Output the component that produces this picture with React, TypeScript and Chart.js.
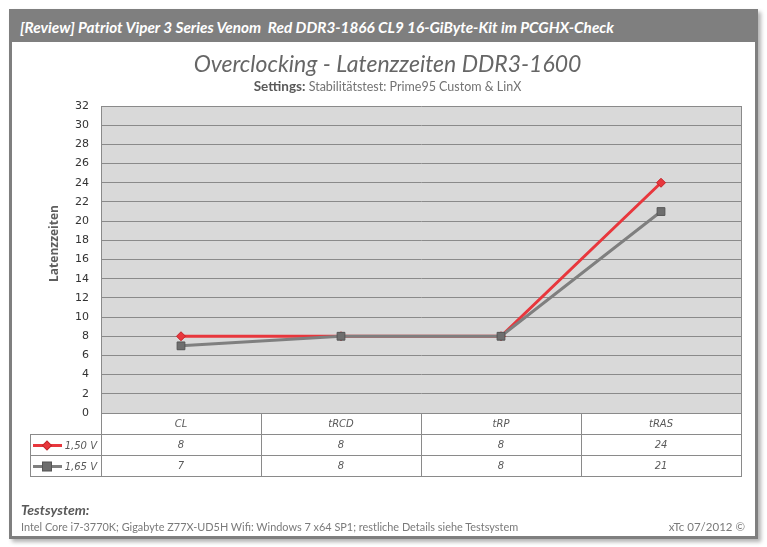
import React, { useEffect, useRef } from "react";
import { Chart, registerables } from "chart.js";

Chart.register(...registerables);

// Timings tested and the resulting latencies per voltage
const categories = ["CL", "tRCD", "tRP", "tRAS"];
const seriesNames = ["1,50 V", "1,65 V"];
const latencies150 = [8, 8, 8, 24];
const latencies165 = [7, 8, 8, 21];
const yMin = 0;
const yMax = 32;
const yStep = 2;

const headerText =
  "[Review] Patriot Viper 3 Series Venom  Red DDR3-1866 CL9 16-GiByte-Kit im PCGHX-Check";
const titleText = "Overclocking - Latenzzeiten DDR3-1600";
const subtitleBold = "Settings:";
const subtitleText = " Stabilitätstest: Prime95 Custom & LinX";
const yAxisTitle = "Latenzzeiten";
const footerTitle = "Testsystem:";
const footerText =
  "Intel Core i7-3770K; Gigabyte Z77X-UD5H Wifi: Windows 7 x64 SP1; restliche Details siehe Testsystem";
const footerCredit = "xTc 07/2012 ©";

const RED = "#e8373d";
const GREY = "#7f7f7f";
const LINE = "#8a8a8a";
const TEXT = "#595959";

const seriesColors = [RED, GREY];
const seriesValues = [latencies150, latencies165];

function drawMarker(ctx: CanvasRenderingContext2D, idx: number, x: number, y: number) {
  if (idx === 0) {
    ctx.save();
    ctx.translate(x, y);
    ctx.rotate(Math.PI / 4);
    ctx.fillStyle = RED;
    ctx.strokeStyle = "#c4242a";
    ctx.lineWidth = 1;
    ctx.fillRect(-3.2, -3.2, 6.4, 6.4);
    ctx.strokeRect(-3.2, -3.2, 6.4, 6.4);
    ctx.restore();
  } else {
    ctx.save();
    ctx.fillStyle = "#6e6e6e";
    ctx.strokeStyle = "#555555";
    ctx.lineWidth = 1;
    ctx.fillRect(x - 4.5, y - 4.5, 9, 9);
    ctx.strokeRect(x - 4.5, y - 4.5, 9, 9);
    ctx.restore();
  }
}

const plotBackground = {
  id: "plotBackground",
  beforeDraw(chart: any) {
    const { ctx, chartArea } = chart;
    ctx.save();
    ctx.fillStyle = "#d9d9d9";
    ctx.fillRect(chartArea.left, chartArea.top, chartArea.right - chartArea.left, chartArea.bottom - chartArea.top);
    ctx.restore();
  },
};

const dataTable = {
  id: "dataTable",
  afterDraw(chart: any) {
    const { ctx, chartArea } = chart;
    const xs = chart.scales.x;
    const left = chartArea.left;
    const right = chartArea.right;
    const top = chartArea.bottom;
    const rowH = 21;
    const keyLeft = 30;
    const n = categories.length;
    const band = (right - left) / n;

    ctx.save();
    // plot frame right edge
    ctx.strokeStyle = LINE;
    ctx.lineWidth = 1;
    ctx.beginPath();
    ctx.moveTo(Math.round(right) + 0.5, chartArea.top);
    ctx.lineTo(Math.round(right) + 0.5, top + rowH * 3);
    ctx.stroke();

    // horizontal table rules
    ctx.beginPath();
    ctx.moveTo(left, Math.round(top) + 0.5);
    ctx.lineTo(right, Math.round(top) + 0.5);
    for (let r = 1; r <= 3; r++) {
      const y = Math.round(top + rowH * r) + 0.5;
      ctx.moveTo(keyLeft, y);
      ctx.lineTo(right + 1, y);
    }
    // vertical rules
    for (let i = 0; i < n; i++) {
      const x = Math.round(left + band * i) + 0.5;
      ctx.moveTo(x, top);
      ctx.lineTo(x, top + rowH * 3);
    }
    ctx.moveTo(keyLeft + 0.5, top + rowH);
    ctx.lineTo(keyLeft + 0.5, top + rowH * 3);
    ctx.stroke();

    // category header and values
    ctx.font = "italic 10px 'DejaVu Sans'";
    ctx.fillStyle = TEXT;
    ctx.textAlign = "center";
    ctx.textBaseline = "middle";
    categories.forEach((c, i) => {
      const x = xs.getPixelForValue(i);
      ctx.fillText(c, x, top + rowH / 2 + 1);
      seriesValues.forEach((vals, s) => {
        ctx.fillText(String(vals[i]), x, top + rowH * (s + 1.5) + 1);
      });
    });

    // legend keys
    seriesNames.forEach((name, s) => {
      const y = Math.round(top + rowH * (s + 1.5)) + 0.5;
      ctx.strokeStyle = seriesColors[s];
      ctx.lineWidth = 3;
      ctx.beginPath();
      ctx.moveTo(keyLeft + 3, y);
      ctx.lineTo(keyLeft + 32, y);
      ctx.stroke();
      drawMarker(ctx, s, keyLeft + 17, y);
      ctx.fillStyle = TEXT;
      ctx.textAlign = "right";
      ctx.fillText(name, left - 4, y + 1);
    });

    // y-axis title
    ctx.translate(55, (chartArea.top + chartArea.bottom) / 2 - 16);
    ctx.rotate(-Math.PI / 2);
    ctx.font = "bold 12px 'Open Sans'";
    ctx.fillStyle = "#5f5f5f";
    ctx.textAlign = "center";
    ctx.textBaseline = "middle";
    ctx.fillText(yAxisTitle, 0, 0);
    ctx.restore();
  },
};

export default function App() {
  const canvasRef = useRef<HTMLCanvasElement | null>(null);

  useEffect(() => {
    if (!canvasRef.current) return;
    const chart = new Chart(canvasRef.current, {
      type: "line",
      data: {
        labels: categories,
        datasets: [
          {
            label: seriesNames[0],
            data: latencies150,
            borderColor: RED,
            borderWidth: 3,
            pointStyle: "rectRot",
            pointRadius: 4.5,
            pointBackgroundColor: RED,
            pointBorderColor: "#c4242a",
            pointBorderWidth: 1,
            tension: 0,
            order: 2,
          },
          {
            label: seriesNames[1],
            data: latencies165,
            borderColor: GREY,
            borderWidth: 3,
            pointStyle: "rect",
            pointRadius: 5.5,
            pointBackgroundColor: "#6e6e6e",
            pointBorderColor: "#555555",
            pointBorderWidth: 1,
            tension: 0,
            order: 1,
          },
        ],
      },
      options: {
        animation: false,
        responsive: false,
        devicePixelRatio: 1,
        layout: { padding: { left: 30, right: 26, top: 106, bottom: 134 } },
        plugins: {
          legend: { display: false },
          tooltip: { enabled: false },
          title: { display: false },
        },
        scales: {
          x: {
            type: "category",
            display: false,
            offset: true,
          },
          y: {
            min: yMin,
            max: yMax,
            ticks: {
              stepSize: yStep,
              color: "#333333",
              padding: 12,
              font: { family: "'DejaVu Sans'", size: 11 },
            },
            grid: { color: LINE, drawTicks: false, lineWidth: 1 },
            border: { display: true, color: LINE },
            afterFit: (s: any) => {
              s.width = 71;
            },
          },
        },
      },
      plugins: [plotBackground, dataTable],
    });
    return () => chart.destroy();
  }, []);

  return (
    <div
      style={{
        position: "absolute",
        left: 0,
        top: 0,
        width: 767,
        height: 547,
        background: "#ffffff",
        overflow: "hidden",
      }}
    >
      <div
        style={{
          position: "absolute",
          left: 9,
          top: 9,
          width: 749,
          height: 530,
          boxSizing: "border-box",
          border: "3px solid #7f7f7f",
          background: "#ffffff",
          boxShadow: "3px 3px 4px rgba(0,0,0,0.3)",
        }}
      >
        <div
          style={{
            position: "absolute",
            left: 0,
            top: 0,
            right: 0,
            height: 30,
            background: "#7f7f7f",
            color: "#ffffff",
            fontFamily: "Lato, 'Open Sans', sans-serif",
            fontWeight: 700,
            fontStyle: "italic",
            fontSize: 15.3,
            lineHeight: "30px",
            paddingLeft: 8,
            whiteSpace: "pre",
          }}
        >
          {headerText}
        </div>
      </div>
      <canvas
        ref={canvasRef}
        width={767}
        height={547}
        style={{ position: "absolute", left: 0, top: 0, width: 767, height: 547 }}
      />
      <div
        style={{
          position: "absolute",
          left: 0,
          width: 775,
          top: 48,
          textAlign: "center",
          fontFamily: "Lato, 'Open Sans', sans-serif",
          fontStyle: "italic",
          fontSize: 23,
          lineHeight: "30px",
          color: "#666666",
        }}
      >
        {titleText}
      </div>
      <div
        style={{
          position: "absolute",
          left: 0,
          width: 775,
          top: 78,
          textAlign: "center",
          fontFamily: "Lato, 'Open Sans', sans-serif",
          fontSize: 12.5,
          lineHeight: "16px",
          color: "#737373",
          whiteSpace: "pre",
        }}
      >
        <span style={{ fontWeight: 700, fontSize: 13.5, color: TEXT }}>{subtitleBold}</span>
        {subtitleText}
      </div>
      <div
        style={{
          position: "absolute",
          left: 21,
          top: 501,
          fontFamily: "Lato, 'Open Sans', sans-serif",
          fontWeight: 700,
          fontStyle: "italic",
          fontSize: 14,
          lineHeight: "18px",
          color: TEXT,
        }}
      >
        {footerTitle}
      </div>
      <div
        style={{
          position: "absolute",
          left: 21,
          top: 519,
          fontFamily: "Lato, 'Open Sans', sans-serif",
          fontSize: 10.9,
          lineHeight: "16px",
          color: "#7a7a7a",
          whiteSpace: "pre",
        }}
      >
        {footerText}
      </div>
      <div
        style={{
          position: "absolute",
          right: 22,
          top: 519,
          fontFamily: "Lato, 'Open Sans', sans-serif",
          fontSize: 11.5,
          lineHeight: "16px",
          color: "#7a7a7a",
          whiteSpace: "pre",
        }}
      >
        {footerCredit}
      </div>
    </div>
  );
}
